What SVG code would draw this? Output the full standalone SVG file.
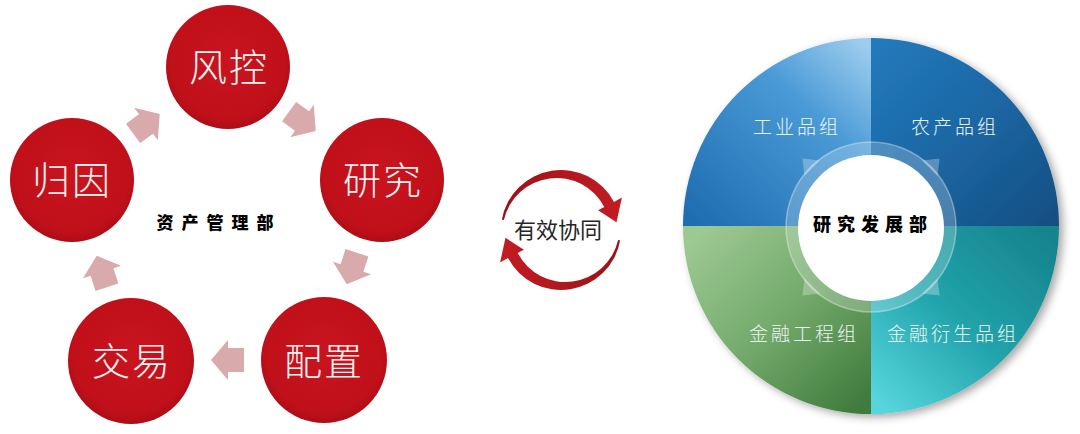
<svg xmlns="http://www.w3.org/2000/svg" xmlns:xlink="http://www.w3.org/1999/xlink" width="1080" height="434" viewBox="0 0 1080 434">
  <style>
    .red { fill: url(#gRed); }
    .lbl { font-family: "Noto Sans CJK SC", "Liberation Serif", serif; font-weight: 300; font-size: 38px; fill: #fdf0f0; text-anchor: middle; letter-spacing: 2px; }
    .blk { fill: #d9aaac; }
    .hub { font-family: "Noto Sans CJK SC", "Liberation Sans", sans-serif; font-weight: 900; fill: #000; text-anchor: middle; }
    .grp { font-family: "Noto Sans CJK SC", "Liberation Sans", sans-serif; font-weight: 300; font-size: 19px; fill: #e9f5f1; text-anchor: middle; letter-spacing: 3px; }
    .notch { fill: #ffffff; fill-opacity: 0.28; }
  </style>
  <defs>
    <radialGradient id="gRed" cx="0.5" cy="0.45" r="0.55">
      <stop offset="0" stop-color="#c9141e"/>
      <stop offset="0.85" stop-color="#c0101a"/>
      <stop offset="1" stop-color="#ad0d16"/>
    </radialGradient>
    <linearGradient id="gRing" x1="0" y1="0" x2="1" y2="0">
      <stop offset="0" stop-color="#9a1218"/>
      <stop offset="1" stop-color="#c41c24"/>
    </linearGradient>
    <linearGradient id="gTL" gradientUnits="userSpaceOnUse" x1="865" y1="45" x2="700" y2="225">
      <stop offset="0" stop-color="#9dcdee"/>
      <stop offset="0.35" stop-color="#4a9ad6"/>
      <stop offset="1" stop-color="#1f6db1"/>
    </linearGradient>
    <linearGradient id="gTR" gradientUnits="userSpaceOnUse" x1="880" y1="45" x2="1050" y2="225">
      <stop offset="0" stop-color="#2279bb"/>
      <stop offset="0.5" stop-color="#1b66a3"/>
      <stop offset="1" stop-color="#164f82"/>
    </linearGradient>
    <linearGradient id="gBL" gradientUnits="userSpaceOnUse" x1="700" y1="235" x2="865" y2="405">
      <stop offset="0" stop-color="#9cc892"/>
      <stop offset="0.5" stop-color="#72a96a"/>
      <stop offset="1" stop-color="#3f7a3c"/>
    </linearGradient>
    <linearGradient id="gBR" gradientUnits="userSpaceOnUse" x1="1045" y1="235" x2="885" y2="410">
      <stop offset="0" stop-color="#16848d"/>
      <stop offset="0.5" stop-color="#21a2aa"/>
      <stop offset="1" stop-color="#56d5dd"/>
    </linearGradient>
    <filter id="shadow" x="-10%" y="-10%" width="125%" height="125%">
      <feDropShadow dx="4" dy="3" stdDeviation="4" flood-color="#000" flood-opacity="0.35"/>
    </filter>
    <path id="blkArrow" d="M-16,-12 H0 V-20 L17,0 L0,20 V12 H-16 Z"/>
    <path id="notchShape" d="M0,-97 L-11,-83 L11,-83 Z"/>
    <path id="sync" d="M501.9,219.6 A60,60 0 0 1 614.0,201.9 L621.9,197.6 L616.5,222.2 L598.1,210.3 L604.27,207.02 A53.9,53.9 0 0 0 503.88,219.93 Z"/>
  </defs>

  <rect width="1080" height="434" fill="#ffffff"/>

  <!-- Connectors of the left cycle -->
  <g id="connectors" class="blk">
    <use xlink:href="#blkArrow" href="#blkArrow" transform="translate(302,121) rotate(36)"/>
    <use xlink:href="#blkArrow" href="#blkArrow" transform="translate(352,268) rotate(108)"/>
    <use xlink:href="#blkArrow" href="#blkArrow" transform="translate(228,360) rotate(180)"/>
    <use xlink:href="#blkArrow" href="#blkArrow" transform="translate(102,272) rotate(-108)"/>
    <use xlink:href="#blkArrow" href="#blkArrow" transform="translate(146,124) rotate(-36)"/>
  </g>

  <!-- Left cycle nodes -->
  <g id="node-fengkong">
    <circle class="red" cx="228" cy="67" r="62"/>
    <text class="lbl" x="229" y="81">风控</text>
  </g>
  <g id="node-yanjiu">
    <circle class="red" cx="382" cy="180" r="62"/>
    <text class="lbl" x="383" y="194">研究</text>
  </g>
  <g id="node-peizhi">
    <circle class="red" cx="324" cy="360" r="63"/>
    <text class="lbl" x="324" y="375">配置</text>
  </g>
  <g id="node-jiaoyi">
    <circle class="red" cx="131" cy="361" r="63"/>
    <text class="lbl" x="132" y="375">交易</text>
  </g>
  <g id="node-guiyin">
    <circle class="red" cx="72" cy="180" r="62"/>
    <text class="lbl" x="72" y="194">归因</text>
  </g>
  <g id="node-zichan">
    <text class="hub" x="219" y="229" font-size="17" letter-spacing="8">资产管理部</text>
  </g>

  <!-- Middle: synergy -->
  <g id="node-synergy">
    <use xlink:href="#sync" href="#sync" fill="url(#gRing)"/>
    <use xlink:href="#sync" href="#sync" fill="url(#gRing)" transform="rotate(180 561 230)"/>
    <text x="558" y="238" font-family="Noto Sans CJK SC, Liberation Serif, serif" font-weight="400" font-size="22" fill="#262626" text-anchor="middle">有效协同</text>
  </g>

  <!-- Right: research wheel -->
  <g id="node-wheel" filter="url(#shadow)">
    <path d="M871,226 V38 A188,188 0 0 0 683,226 Z" fill="url(#gTL)"/>
    <path d="M871,226 H1059 A188,188 0 0 0 871,38 Z" fill="url(#gTR)"/>
    <path d="M871,226 V414 A188,188 0 0 0 1059,226 Z" fill="url(#gBR)"/>
    <path d="M871,226 H683 A188,188 0 0 0 871,414 Z" fill="url(#gBL)"/>
  </g>
  <g id="node-industrial">
    <text class="grp" x="797" y="134">工业品组</text>
  </g>
  <g id="node-agri">
    <text class="grp" x="955" y="134">农产品组</text>
  </g>
  <g id="node-fineng">
    <text class="grp" x="804" y="341">金融工程组</text>
  </g>
  <g id="node-deriv">
    <text class="grp" x="953" y="341">金融衍生品组</text>
  </g>
  <g id="node-yanfa">
    <g transform="translate(871,227)">
      <use xlink:href="#notchShape" href="#notchShape" class="notch" transform="rotate(-45)"/>
      <use xlink:href="#notchShape" href="#notchShape" class="notch" transform="rotate(45)"/>
      <use xlink:href="#notchShape" href="#notchShape" class="notch" transform="rotate(135)"/>
      <use xlink:href="#notchShape" href="#notchShape" class="notch" transform="rotate(-135)"/>
    </g>
    <circle cx="871" cy="227" r="85" fill="#ffffff" fill-opacity="0.22" stroke="#ffffff" stroke-opacity="0.35" stroke-width="1.5"/>
    <circle cx="871" cy="228" r="73" fill="#ffffff"/>
    <text class="hub" x="873" y="231" font-size="18" letter-spacing="6">研究发展部</text>
  </g>
</svg>
